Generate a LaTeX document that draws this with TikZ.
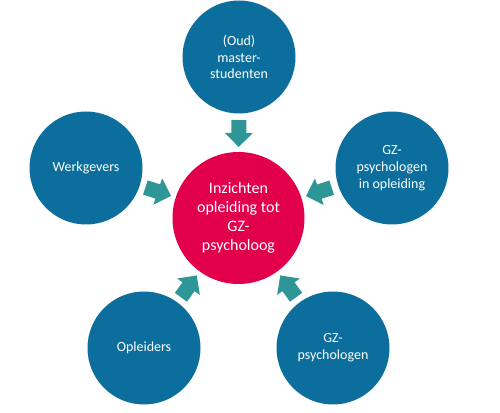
\documentclass[tikz,border=0pt]{standalone}
\usepackage{fontspec}
\setmainfont{Carlito}
\usetikzlibrary{calc}
\definecolor{outerblue}{HTML}{0B6E9C}
\definecolor{centerred}{HTML}{E2004D}
\definecolor{arrowteal}{HTML}{2E9696}
\tikzset{
  outer/.style={circle, fill=outerblue, text=white, minimum size=113pt, inner sep=0pt,
    align=center, font=\fontsize{14}{16.7}\selectfont},
  centre/.style={circle, fill=centerred, text=white, minimum size=132pt, inner sep=0pt,
    align=center, font=\fontsize{16}{19}\selectfont},
  blockarrow/.style={fill=arrowteal}
}
\newcommand{\fatarrow}[2]{%
  \coordinate (T) at ($(#2.center)!98pt!(#1.center)$);
  \coordinate (P) at ($(#2.center)!71pt!(#1.center)$);
  \coordinate (H) at ($(P)!14pt!(T)$);
  \fill[blockarrow] ($(T)!7.5pt!90:(P)$) -- ($(H)!7.5pt!-90:(T)$) -- ($(H)!14pt!-90:(T)$) -- (P)
    -- ($(H)!14pt!90:(T)$) -- ($(H)!7.5pt!90:(T)$) -- ($(T)!7.5pt!-90:(P)$) -- cycle;
}
\begin{document}
\begin{tikzpicture}[x=1pt,y=1pt]
\useasboundingbox (0,0) rectangle (500,412);
\node[centre] (c) at (238.5,194) {Inzichten\\opleiding tot\\GZ-\\psycholoog};
\node[outer] (top) at (239,355) {(Oud)\\master-\\studenten};
\node[outer] (right) at (392,244) {GZ-\\psychologen\\in opleiding};
\node[outer] (left) at (86,244) {Werkgevers};
\node[outer] (bl) at (144,64) {Opleiders};
\node[outer] (br) at (333,64) {GZ-\\psychologen};
\fatarrow{top}{c}
\fatarrow{right}{c}
\fatarrow{left}{c}
\fatarrow{bl}{c}
\fatarrow{br}{c}
\end{tikzpicture}
\end{document}
